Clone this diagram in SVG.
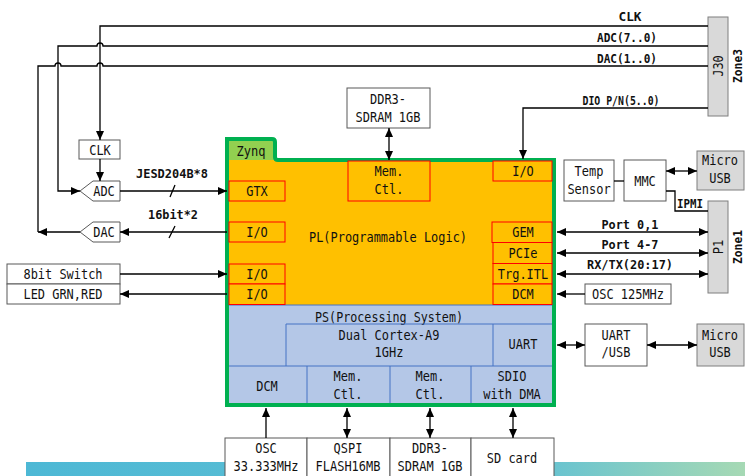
<svg xmlns="http://www.w3.org/2000/svg" width="745" height="476" viewBox="0 0 745 476">
<style>
text{font-family:"DejaVu Sans Mono","Liberation Mono",monospace;font-size:14px;fill:#111;text-anchor:middle}
.b{font-weight:bold;font-size:13px}
.box{fill:#fff;stroke:#595959;stroke-width:1}
.gbox{fill:#d9d9d9;stroke:#7f7f7f;stroke-width:1}
.red{fill:#ffc000;stroke:#ff0000;stroke-width:1}
.ps{fill:none;stroke:#4472c4;stroke-width:1}
.ln{fill:none;stroke:#000;stroke-width:1.3}
.a{marker-end:url(#ah)}
.d{marker-start:url(#ah);marker-end:url(#ah)}
</style>
<defs>
<marker id="ah" viewBox="0 0 9 8" refX="9" refY="4" markerWidth="9" markerHeight="8" markerUnits="userSpaceOnUse" orient="auto-start-reverse">
<path d="M0,0 L9,4 L0,8 Z" fill="#000"/>
</marker>
<linearGradient id="band" x1="0" y1="0" x2="1" y2="0">
<stop offset="0" stop-color="#4db8d5"/>
<stop offset="0.7" stop-color="#62c1d3"/>
<stop offset="1" stop-color="#a6d9b4"/>
</linearGradient>
</defs>
<rect width="745" height="476" fill="#fff"/>
<rect x="26" y="462" width="719" height="14" fill="url(#band)"/>

<g id="zynq">
<path d="M227,139 H272 Q275,139 275,142 V157 Q275,160 278,160 H554 V405 H227 Z" fill="#ffc000"/>
<rect x="229" y="141" width="45" height="19" fill="#92d050"/>
<rect x="229" y="305" width="323" height="99" fill="#b4c7e7"/>
<text x="251" y="156" textLength="29" lengthAdjust="spacingAndGlyphs">Zynq</text>
<text x="388" y="242" textLength="158" lengthAdjust="spacingAndGlyphs">PL(Programmable Logic)</text>
<text x="389" y="322" textLength="148" lengthAdjust="spacingAndGlyphs">PS(Processing System)</text>
<path class="ps" d="M229,305 H552 M286,324 H552 M286,324 V366 M493,324 V366 M229,366 H552 M307,366 V404 M390,366 V404 M471,366 V404"/>
<path d="M227,139 H272 Q275,139 275,142 V157 Q275,160 278,160 H554 V405 H227 Z" fill="none" stroke="#00b050" stroke-width="4"/>
</g>
<g id="pl-gtx"><rect class="red" x="229" y="181" width="56" height="20"/><text x="257" y="196" textLength="21.6" lengthAdjust="spacingAndGlyphs">GTX</text></g>
<g id="pl-io1"><rect class="red" x="229" y="222" width="56" height="20"/><text x="257" y="237" textLength="21.6" lengthAdjust="spacingAndGlyphs">I/O</text></g>
<g id="pl-io2"><rect class="red" x="229" y="264" width="56" height="20"/><text x="257" y="279" textLength="21.6" lengthAdjust="spacingAndGlyphs">I/O</text></g>
<g id="pl-io3"><rect class="red" x="229" y="284" width="56" height="20.5"/><text x="257" y="299" textLength="21.6" lengthAdjust="spacingAndGlyphs">I/O</text></g>
<g id="pl-memctl"><rect class="red" x="348" y="161" width="82" height="40"/><text x="389" y="176" textLength="28.8" lengthAdjust="spacingAndGlyphs">Mem.</text><text x="389" y="194" textLength="28.8" lengthAdjust="spacingAndGlyphs">Ctl.</text></g>
<g id="pl-io-top"><rect class="red" x="493" y="161" width="59" height="20"/><text x="523" y="176" textLength="21.6" lengthAdjust="spacingAndGlyphs">I/O</text></g>
<g id="pl-gem"><rect class="red" x="492" y="222" width="60" height="20.5"/><text x="523" y="237" textLength="21.6" lengthAdjust="spacingAndGlyphs">GEM</text></g>
<g id="pl-pcie"><rect class="red" x="493" y="242.5" width="59" height="21"/><text x="523" y="258" textLength="28.8" lengthAdjust="spacingAndGlyphs">PCIe</text></g>
<g id="pl-trg"><rect class="red" x="493" y="263.5" width="59" height="20.5"/><text x="523" y="279" textLength="50.4" lengthAdjust="spacingAndGlyphs">Trg.ITL</text></g>
<g id="pl-dcm"><rect class="red" x="493" y="284" width="59" height="20.5"/><text x="523" y="299" textLength="21.6" lengthAdjust="spacingAndGlyphs">DCM</text></g>
<g id="ps-cortex"><text x="389" y="340" textLength="100.8" lengthAdjust="spacingAndGlyphs">Dual Cortex-A9</text><text x="389" y="357" textLength="28.8" lengthAdjust="spacingAndGlyphs">1GHz</text></g>
<g id="ps-uart"><text x="523" y="349" textLength="28.8" lengthAdjust="spacingAndGlyphs">UART</text></g>
<g id="ps-dcm"><text x="267" y="391" textLength="21.6" lengthAdjust="spacingAndGlyphs">DCM</text></g>
<g id="ps-memctl1"><text x="348" y="381" textLength="28.8" lengthAdjust="spacingAndGlyphs">Mem.</text><text x="348" y="399" textLength="28.8" lengthAdjust="spacingAndGlyphs">Ctl.</text></g>
<g id="ps-memctl2"><text x="430" y="381" textLength="28.8" lengthAdjust="spacingAndGlyphs">Mem.</text><text x="430" y="399" textLength="28.8" lengthAdjust="spacingAndGlyphs">Ctl.</text></g>
<g id="ps-sdio"><text x="512" y="381" textLength="28.8" lengthAdjust="spacingAndGlyphs">SDIO</text><text x="512" y="399" textLength="57.6" lengthAdjust="spacingAndGlyphs">with DMA</text></g>

<g id="j30"><rect class="gbox" x="708" y="17" width="20" height="99"/><text transform="translate(723,66) rotate(-90)" textLength="21.6" lengthAdjust="spacingAndGlyphs">J30</text><text class="b" transform="translate(742,66) rotate(-90)" textLength="34" lengthAdjust="spacingAndGlyphs">Zone3</text></g>
<g id="ddr3-pl"><rect class="box" x="347" y="88" width="83" height="40"/><text x="388" y="104" textLength="36" lengthAdjust="spacingAndGlyphs">DDR3-</text><text x="388" y="122" textLength="64.8" lengthAdjust="spacingAndGlyphs">SDRAM 1GB</text></g>
<g id="clk"><rect class="box" x="79" y="140" width="41" height="19"/><text x="100" y="155" textLength="21.6" lengthAdjust="spacingAndGlyphs">CLK</text></g>
<g id="adc"><polygon class="box" points="80,191 93,181 120,181 120,201 93,201"/><text x="104" y="196" textLength="21.6" lengthAdjust="spacingAndGlyphs">ADC</text></g>
<g id="dac"><polygon class="box" points="80,232 93,222 120,222 120,242 93,242"/><text x="104" y="237" textLength="21.6" lengthAdjust="spacingAndGlyphs">DAC</text></g>
<g id="switch"><rect class="box" x="7" y="264" width="113" height="20"/><text x="63" y="279" textLength="79" lengthAdjust="spacingAndGlyphs">8bit Switch</text></g>
<g id="led"><rect class="box" x="7" y="284" width="113" height="20"/><text x="63" y="299" textLength="79" lengthAdjust="spacingAndGlyphs">LED GRN,RED</text></g>
<g id="temp"><rect class="box" x="564" y="160" width="50" height="41"/><text x="589" y="176" textLength="28.8" lengthAdjust="spacingAndGlyphs">Temp</text><text x="589" y="194" textLength="43.2" lengthAdjust="spacingAndGlyphs">Sensor</text></g>
<g id="mmc"><rect class="box" x="624" y="160" width="42" height="41"/><text x="645" y="186" textLength="21.6" lengthAdjust="spacingAndGlyphs">MMC</text></g>
<g id="usb1"><rect class="gbox" x="697" y="151" width="47" height="39"/><text x="720" y="165" textLength="36" lengthAdjust="spacingAndGlyphs">Micro</text><text x="720" y="183" textLength="21.6" lengthAdjust="spacingAndGlyphs">USB</text></g>
<g id="p1"><rect class="gbox" x="708" y="201" width="20" height="92"/><text transform="translate(723,247) rotate(-90)" textLength="14.4" lengthAdjust="spacingAndGlyphs">P1</text><text class="b" transform="translate(742,247) rotate(-90)" textLength="34" lengthAdjust="spacingAndGlyphs">Zone1</text></g>
<g id="osc125"><rect class="box" x="585" y="284" width="86" height="20"/><text x="628" y="299" textLength="72" lengthAdjust="spacingAndGlyphs">OSC 125MHz</text></g>
<g id="uartusb"><rect class="box" x="585" y="324" width="62" height="42"/><text x="616" y="340" textLength="28.8" lengthAdjust="spacingAndGlyphs">UART</text><text x="616" y="357" textLength="28.8" lengthAdjust="spacingAndGlyphs">/USB</text></g>
<g id="usb2"><rect class="gbox" x="697" y="324" width="47" height="42"/><text x="720" y="340" textLength="36" lengthAdjust="spacingAndGlyphs">Micro</text><text x="720" y="357" textLength="21.6" lengthAdjust="spacingAndGlyphs">USB</text></g>
<g id="osc33"><rect class="box" x="225" y="438" width="82" height="42"/><text x="266" y="453" textLength="21.6" lengthAdjust="spacingAndGlyphs">OSC</text><text x="266" y="471" textLength="64.8" lengthAdjust="spacingAndGlyphs">33.333MHz</text></g>
<g id="qspi"><rect class="box" x="307" y="438" width="83" height="42"/><text x="348" y="453" textLength="28.8" lengthAdjust="spacingAndGlyphs">QSPI</text><text x="348" y="471" textLength="64.8" lengthAdjust="spacingAndGlyphs">FLASH16MB</text></g>
<g id="ddr3-ps"><rect class="box" x="390" y="438" width="81" height="42"/><text x="430" y="453" textLength="36" lengthAdjust="spacingAndGlyphs">DDR3-</text><text x="430" y="471" textLength="64.8" lengthAdjust="spacingAndGlyphs">SDRAM 1GB</text></g>
<g id="sdcard"><rect class="box" x="471" y="438" width="83" height="42"/><text x="512" y="463" textLength="50.4" lengthAdjust="spacingAndGlyphs">SD card</text></g>

<g id="connectors">
<path class="ln a" d="M708,26 H100 V140"/>
<path class="ln a" d="M708,46 H103 A3,3 0 0 0 97,46 H58 V191 H80"/>
<path class="ln" d="M708,66 H103 A3,3 0 0 0 97,66 H61 A3,3 0 0 0 55,66 H38 V232"/>
<path class="ln a" d="M80,232 H38"/>
<path class="ln a" d="M100,159 V181"/>
<path class="ln a" d="M120,191 H227"/>
<path class="ln a" d="M227,232 H120"/>
<path class="ln a" d="M120,274 H227"/>
<path class="ln a" d="M227,294 H120"/>
<path class="ln" d="M170,197 L175,185 M169,238 L175,226"/>
<path class="ln d" d="M389,128 V160"/>
<path class="ln a" d="M708,108 H523 V159"/>
<path class="ln" d="M614,181 H624"/>
<path class="ln d" d="M666,171 H697"/>
<path class="ln" d="M666,191 H675 V211 H708"/>
<path class="ln d" d="M557,232 H708"/>
<path class="ln d" d="M557,253 H708"/>
<path class="ln d" d="M557,274 H708"/>
<path class="ln a" d="M585,294 H557"/>
<path class="ln d" d="M557,345 H585"/>
<path class="ln d" d="M647,345 H697"/>
<path class="ln a" d="M266,438 V408"/>
<path class="ln d" d="M347,438 V408"/>
<path class="ln d" d="M430,438 V408"/>
<path class="ln d" d="M513,438 V408"/>
<text class="b" x="630" y="21" textLength="23" lengthAdjust="spacingAndGlyphs">CLK</text>
<text class="b" x="627" y="42" textLength="60" lengthAdjust="spacingAndGlyphs">ADC(7..0)</text>
<text class="b" x="627" y="63" textLength="60" lengthAdjust="spacingAndGlyphs">DAC(1..0)</text>
<text class="b" x="621" y="105" textLength="77" lengthAdjust="spacingAndGlyphs">DIO P/N(5..0)</text>
<text class="b" x="172" y="178" textLength="72" lengthAdjust="spacingAndGlyphs">JESD204B*8</text>
<text class="b" x="173" y="219" textLength="50" lengthAdjust="spacingAndGlyphs">16bit*2</text>
<text class="b" x="690" y="208" textLength="26" lengthAdjust="spacingAndGlyphs">IPMI</text>
<text class="b" x="630" y="229" textLength="57" lengthAdjust="spacingAndGlyphs">Port 0,1</text>
<text class="b" x="630" y="249" textLength="57" lengthAdjust="spacingAndGlyphs">Port 4-7</text>
<text class="b" x="630" y="269" textLength="86" lengthAdjust="spacingAndGlyphs">RX/TX(20:17)</text>
</g>
</svg>
